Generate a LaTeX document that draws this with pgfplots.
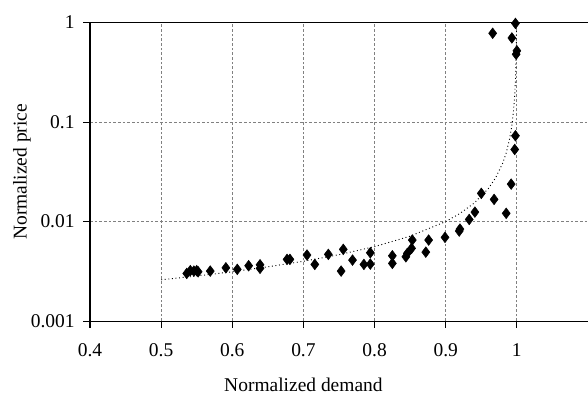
\documentclass[border=0pt]{standalone}
\usepackage{pgfplots}
\pgfplotsset{compat=1.18}
\usepackage{fontspec}
\setmainfont{Liberation Serif}
\begin{document}
\fontsize{14.6}{17}\selectfont
\begin{tikzpicture}
\begin{axis}[
  scale only axis,
  width=373.5pt, height=223.9pt,
  xmin=0.4, xmax=1.1,
  ymode=log, ymin=0.001, ymax=1,
  axis x line*=bottom, axis y line*=left,
  axis line style={line width=0.8pt, black},
  tick align=outside,
  major tick length=5pt,
  tick style={line width=0.8pt, black},
  xtick={0.4,0.5,0.6,0.7,0.8,0.9,1},
  xticklabels={0.4,0.5,0.6,0.7,0.8,0.9,1},
  ytick={0.001,0.01,0.1,1},
  yticklabels={0.001,0.01,0.1,1},
  minor ytick={},
  yminorticks=false,
  grid=major,
  major grid style={gray, line width=0.6pt, dash pattern=on 2pt off 1.5pt},
  xticklabel style={font=\fontsize{14.6}{17}\selectfont, yshift=-7pt},
  yticklabel style={font=\fontsize{14.6}{17}\selectfont, xshift=-1.5pt},
  xlabel={Normalized demand},
  ylabel={Normalized price},
  xlabel style={at={(rel axis cs:0.42857,0)}, anchor=center, yshift=-48pt, font=\fontsize{14.6}{17}\selectfont},
  ylabel style={at={(rel axis cs:-0.1365,0.5)}, anchor=center, rotate=0, font=\fontsize{14.6}{17}\selectfont},
  clip=false,
]
\addplot[black, dotted, line width=0.7pt, no markers] coordinates {
(0.5,0.00260) (0.55,0.00284) (0.6,0.00313) (0.65,0.00351) (0.7,0.00399)
(0.75,0.00465) (0.8,0.0056) (0.85,0.00713) (0.9,0.0100) (0.92,0.01206)
(0.94,0.01534) (0.96,0.0215) (0.97,0.0274) (0.98,0.0385) (0.985,0.0489)
(0.99,0.0687) (0.993,0.0926) (0.995,0.123) (0.997,0.188) (0.998,0.264)
(0.999,0.47) (0.9995,0.843) (0.9996,1.0)
};
\addplot[only marks, mark=diamond*, mark size=4pt, black, mark options={fill=black}] coordinates {
(0.536,0.00301) (0.541,0.00321) (0.546,0.00318) (0.550,0.00321) (0.552,0.00313)
(0.569,0.00318) (0.591,0.00343) (0.607,0.00331) (0.623,0.00360) (0.639,0.00368)
(0.639,0.00339) (0.677,0.00417) (0.681,0.00417) (0.705,0.00461) (0.716,0.00371)
(0.735,0.00468) (0.753,0.00318) (0.756,0.00526) (0.769,0.00410) (0.785,0.00371)
(0.794,0.00486) (0.794,0.00374) (0.825,0.00453) (0.825,0.00380) (0.844,0.00443)
(0.846,0.00479) (0.852,0.00538) (0.853,0.00652) (0.872,0.00493) (0.876,0.00652)
(0.899,0.00694) (0.919,0.00803) (0.920,0.00840) (0.933,0.0105) (0.941,0.01245)
(0.950,0.0192) (0.968,0.0167) (0.985,0.0121) (0.992,0.0238) (0.997,0.053)
(0.998,0.0728) (0.966,0.78) (0.993,0.70) (0.998,0.98) (1.000,0.52) (0.999,0.48)
};
\draw[black, line width=0.8pt] (rel axis cs:0,1) -- (rel axis cs:1,1);
\coordinate (A) at (rel axis cs:0,0);
\coordinate (B) at (rel axis cs:1,1);
\end{axis}
\pgfresetboundingbox
\path[use as bounding box] ([xshift=-67.5pt,yshift=-57.75pt]A) rectangle ([yshift=16.9pt]B);
\end{tikzpicture}
\end{document}
